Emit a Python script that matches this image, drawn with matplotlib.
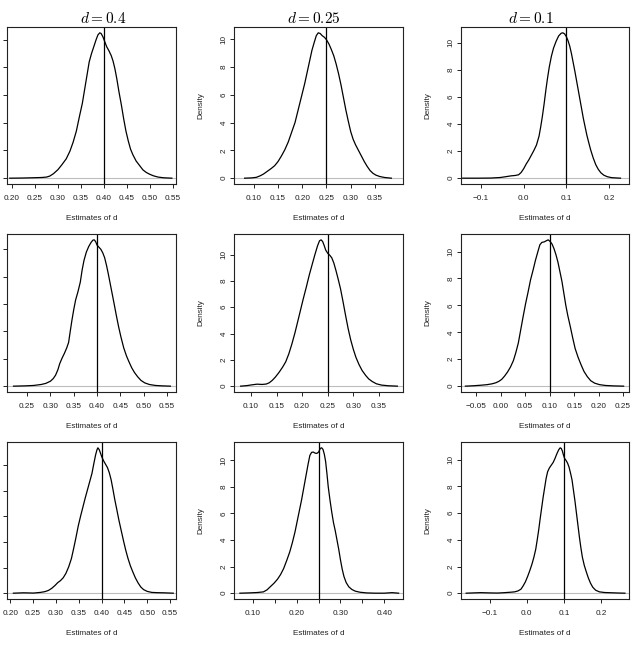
import matplotlib
matplotlib.use("Agg")
import matplotlib.pyplot as plt

plt.rcParams['mathtext.fontset'] = 'cm'
plt.rcParams['font.family'] = ['Liberation Sans', 'DejaVu Sans']

titles = [r'$d = 0.4$', r'$d = 0.25$', r'$d = 0.1$']
true_d = [0.4, 0.25, 0.1, 0.4, 0.25, 0.1, 0.4, 0.25, 0.1]

# ---- density curves (x = estimate of d, y = density) ----
p1_x = [0.195, 0.220, 0.245, 0.265, 0.275, 0.282, 0.290, 0.300, 0.308, 0.318, 0.326, 0.333, 0.340,
        0.347, 0.353, 0.358, 0.363, 0.368, 0.373, 0.378, 0.383, 0.387, 0.391, 0.394, 0.398, 0.402,
        0.406, 0.411, 0.416, 0.420, 0.424, 0.428, 0.433, 0.438, 0.443, 0.448, 0.453, 0.458, 0.463,
        0.470, 0.478, 0.485, 0.492, 0.500, 0.508, 0.518, 0.530, 0.548]
p1_y = [0.0, 0.01, 0.03, 0.05, 0.08, 0.15, 0.32, 0.62, 0.95, 1.4, 1.95, 2.6, 3.4,
        4.5, 5.4, 6.4, 7.4, 8.4, 9.0, 9.5, 10.0, 10.35, 10.5, 10.45, 10.2, 9.85,
        9.5, 9.2, 8.85, 8.45, 7.9, 7.2, 6.2, 5.3, 4.3, 3.4, 2.7, 2.1, 1.7,
        1.25, 0.9, 0.6, 0.42, 0.28, 0.17, 0.08, 0.03, 0.0]

p2_x = [0.081, 0.095, 0.105, 0.113, 0.120, 0.128, 0.136, 0.143, 0.150, 0.157, 0.164, 0.171, 0.178,
        0.185, 0.190, 0.195, 0.200, 0.205, 0.210, 0.215, 0.220, 0.225, 0.229, 0.233, 0.237, 0.241,
        0.246, 0.250, 0.255, 0.260, 0.265, 0.270, 0.275, 0.280, 0.285, 0.290, 0.295, 0.300, 0.305,
        0.310, 0.316, 0.322, 0.328, 0.334, 0.340, 0.346, 0.352, 0.360, 0.370, 0.384]
p2_y = [0.0, 0.02, 0.06, 0.17, 0.3, 0.5, 0.7, 0.9, 1.2, 1.6, 2.05, 2.6, 3.3,
        4.0, 4.7, 5.4, 6.1, 6.8, 7.6, 8.4, 9.2, 9.8, 10.25, 10.45, 10.4, 10.25,
        10.12, 9.95, 9.65, 9.25, 8.8, 8.2, 7.5, 6.7, 5.8, 4.9, 4.1, 3.35, 2.8,
        2.4, 2.0, 1.6, 1.2, 0.85, 0.55, 0.35, 0.22, 0.12, 0.05, 0.0]

p3_x = [-0.143, -0.110, -0.077, -0.055, -0.040, -0.030, -0.020, -0.012, -0.006, 0.000, 0.006, 0.012,
        0.018, 0.024, 0.030, 0.036, 0.040, 0.044, 0.048, 0.052, 0.056, 0.060, 0.065, 0.070, 0.076,
        0.082, 0.088, 0.092, 0.096, 0.100, 0.104, 0.108, 0.112, 0.116, 0.120, 0.124, 0.128, 0.132,
        0.136, 0.140, 0.144, 0.148, 0.152, 0.157, 0.163, 0.169, 0.175, 0.181, 0.188, 0.196, 0.206,
        0.227]
p3_y = [0.0, 0.0, 0.01, 0.05, 0.12, 0.17, 0.2, 0.25, 0.42, 0.7, 1.05, 1.35,
        1.7, 2.05, 2.45, 3.1, 3.8, 4.6, 5.5, 6.5, 7.4, 8.2, 9.0, 9.6, 10.1,
        10.5, 10.7, 10.73, 10.65, 10.45, 10.15, 9.75, 9.2, 8.55, 7.9, 7.2, 6.5, 5.8,
        5.1, 4.4, 3.8, 3.2, 2.7, 2.1, 1.5, 1.0, 0.65, 0.4, 0.22, 0.11, 0.04,
        0.0]

p4_x = [0.221, 0.245, 0.264, 0.280, 0.290, 0.300, 0.306, 0.311, 0.316, 0.320, 0.325, 0.330, 0.335,
        0.339, 0.342, 0.346, 0.350, 0.354, 0.359, 0.364, 0.368, 0.372, 0.377, 0.382, 0.387, 0.391,
        0.394, 0.397, 0.400, 0.404, 0.408, 0.412, 0.416, 0.420, 0.424, 0.428, 0.432, 0.436, 0.441,
        0.446, 0.451, 0.457, 0.463, 0.468, 0.474, 0.480, 0.487, 0.494, 0.502, 0.512, 0.525, 0.540,
        0.557]
p4_y = [0.0, 0.02, 0.05, 0.12, 0.2, 0.36, 0.55, 0.8, 1.2, 1.65, 2.05, 2.4, 2.8,
        3.2, 3.9, 4.8, 5.6, 6.3, 6.9, 7.6, 8.5, 9.2, 9.8, 10.2, 10.5, 10.67,
        10.69, 10.55, 10.3, 10.15, 10.0, 9.75, 9.4, 8.85, 8.2, 7.5, 6.8, 6.1, 5.2,
        4.35, 3.6, 2.8, 2.2, 1.8, 1.35, 1.0, 0.68, 0.42, 0.24, 0.12, 0.05, 0.02,
        0.0]

p5_x = [0.080, 0.092, 0.102, 0.112, 0.122, 0.130, 0.136, 0.142, 0.148, 0.155, 0.162, 0.168, 0.174,
        0.180, 0.186, 0.192, 0.197, 0.202, 0.208, 0.214, 0.220, 0.225, 0.230, 0.234, 0.237, 0.240,
        0.243, 0.246, 0.250, 0.254, 0.258, 0.262, 0.266, 0.270, 0.275, 0.280, 0.285, 0.290, 0.295,
        0.300, 0.305, 0.311, 0.317, 0.324, 0.330, 0.337, 0.345, 0.355, 0.368, 0.386]
p5_y = [0.0, 0.04, 0.1, 0.15, 0.13, 0.16, 0.26, 0.45, 0.7, 1.05, 1.45, 1.85, 2.45,
        3.2, 4.05, 5.0, 5.8, 6.6, 7.5, 8.45, 9.3, 10.0, 10.65, 11.05, 11.12, 11.0,
        10.7, 10.35, 10.1, 9.95, 9.75, 9.35, 8.8, 8.2, 7.4, 6.4, 5.35, 4.35, 3.5,
        2.8, 2.2, 1.65, 1.2, 0.82, 0.55, 0.35, 0.18, 0.08, 0.03, 0.0]

p6_x = [-0.072, -0.055, -0.040, -0.028, -0.018, -0.010, -0.004, 0.002, 0.008, 0.014, 0.020, 0.026,
        0.031, 0.036, 0.041, 0.046, 0.051, 0.056, 0.061, 0.066, 0.071, 0.076, 0.080, 0.084, 0.089,
        0.093, 0.097, 0.101, 0.105, 0.109, 0.113, 0.117, 0.121, 0.125, 0.129, 0.133, 0.137, 0.142,
        0.147, 0.152, 0.158, 0.164, 0.170, 0.177, 0.184, 0.192, 0.202, 0.214, 0.230, 0.251]
p6_y = [0.0, 0.03, 0.07, 0.11, 0.17, 0.25, 0.35, 0.5, 0.75, 1.05, 1.42, 1.9,
        2.5, 3.2, 4.2, 5.2, 6.15, 7.0, 7.9, 8.6, 9.35, 10.0, 10.5, 10.68, 10.72,
        10.8, 10.87, 10.75, 10.55, 10.2, 9.75, 9.2, 8.5, 7.8, 6.9, 6.0, 5.25, 4.45,
        3.6, 2.8, 2.15, 1.6, 1.1, 0.7, 0.4, 0.22, 0.11, 0.05, 0.02, 0.0]

p7_x = [0.207, 0.229, 0.251, 0.266, 0.276, 0.284, 0.291, 0.298, 0.304, 0.310, 0.316, 0.322, 0.328,
        0.334, 0.339, 0.344, 0.349, 0.354, 0.359, 0.364, 0.369, 0.374, 0.379, 0.383, 0.387, 0.390,
        0.392, 0.395, 0.398, 0.401, 0.405, 0.409, 0.413, 0.417, 0.421, 0.425, 0.429, 0.433, 0.438,
        0.443, 0.448, 0.453, 0.458, 0.463, 0.468, 0.474, 0.480, 0.486, 0.492, 0.500, 0.510, 0.522,
        0.536, 0.557]
p7_y = [0.0, 0.03, 0.01, 0.06, 0.12, 0.22, 0.38, 0.6, 0.82, 0.98, 1.2, 1.55, 2.05,
        2.7, 3.5, 4.35, 5.25, 6.0, 6.7, 7.4, 8.05, 8.7, 9.35, 10.1, 10.8, 11.2,
        11.35, 11.2, 10.9, 10.6, 10.3, 10.05, 9.8, 9.4, 8.85, 8.1, 7.3, 6.6, 5.7,
        4.9, 4.1, 3.35, 2.7, 2.15, 1.7, 1.2, 0.8, 0.48, 0.28, 0.14, 0.06, 0.04,
        0.03, 0.0]

p8_x = [0.070, 0.090, 0.110, 0.124, 0.132, 0.140, 0.148, 0.156, 0.163, 0.170, 0.177, 0.184, 0.190,
        0.196, 0.201, 0.206, 0.211, 0.216, 0.221, 0.226, 0.230, 0.234, 0.238, 0.242, 0.246, 0.250,
        0.254, 0.257, 0.260, 0.263, 0.266, 0.269, 0.272, 0.276, 0.280, 0.284, 0.288, 0.292, 0.296,
        0.300, 0.304, 0.308, 0.313, 0.319, 0.326, 0.334, 0.345, 0.360, 0.380, 0.400, 0.418, 0.433]
p8_y = [0.0, 0.02, 0.05, 0.1, 0.25, 0.5, 0.75, 1.05, 1.4, 1.85, 2.45, 3.1, 3.8,
        4.6, 5.4, 6.2, 7.0, 7.9, 8.8, 9.7, 10.35, 10.58, 10.6, 10.52, 10.5, 10.6,
        10.88, 10.92, 10.8, 10.45, 9.9, 9.0, 8.0, 7.0, 6.1, 5.3, 4.7, 4.0, 3.3,
        2.5, 1.8, 1.25, 0.8, 0.48, 0.28, 0.15, 0.07, 0.02, 0.0, 0.0, 0.04, 0.0]

p9_x = [-0.164, -0.145, -0.125, -0.100, -0.079, -0.060, -0.045, -0.033, -0.024, -0.016, -0.010, -0.004,
        0.002, 0.008, 0.014, 0.019, 0.024, 0.028, 0.032, 0.036, 0.040, 0.044, 0.048, 0.052, 0.056,
        0.061, 0.066, 0.071, 0.076, 0.081, 0.086, 0.090, 0.093, 0.096, 0.099, 0.102, 0.106, 0.110,
        0.114, 0.118, 0.122, 0.126, 0.130, 0.134, 0.138, 0.142, 0.146, 0.150, 0.155, 0.160, 0.166,
        0.172, 0.178, 0.186, 0.196, 0.210, 0.230, 0.250, 0.265]
p9_y = [0.0, 0.02, 0.04, 0.02, 0.01, 0.04, 0.07, 0.1, 0.17, 0.3, 0.55, 0.85,
        1.25, 1.7, 2.2, 2.7, 3.3, 4.0, 4.75, 5.6, 6.4, 7.2, 7.9, 8.6, 9.1,
        9.4, 9.6, 9.8, 10.1, 10.45, 10.75, 10.9, 10.85, 10.65, 10.35, 10.1, 9.95, 9.75,
        9.45, 9.0, 8.5, 7.7, 6.9, 6.0, 5.1, 4.2, 3.4, 2.7, 2.1, 1.65, 1.15,
        0.75, 0.45, 0.22, 0.1, 0.05, 0.03, 0.01, 0.0]

curves_x = [p1_x, p2_x, p3_x, p4_x, p5_x, p6_x, p7_x, p8_x, p9_x]
curves_y = [p1_y, p2_y, p3_y, p4_y, p5_y, p6_y, p7_y, p8_y, p9_y]

# x-axis limits and ticks
xlims = [(0.189, 0.557), (0.059, 0.408), (-0.147, 0.247),
         (0.207, 0.569), (0.067, 0.397), (-0.081, 0.262),
         (0.193, 0.563), (0.0565, 0.443), (-0.178, 0.276)]
xticks = [[0.20, 0.25, 0.30, 0.35, 0.40, 0.45, 0.50, 0.55],
          [0.10, 0.15, 0.20, 0.25, 0.30, 0.35],
          [-0.1, 0.0, 0.1, 0.2],
          [0.25, 0.30, 0.35, 0.40, 0.45, 0.50, 0.55],
          [0.10, 0.15, 0.20, 0.25, 0.30, 0.35],
          [-0.05, 0.00, 0.05, 0.10, 0.15, 0.20, 0.25],
          [0.20, 0.25, 0.30, 0.35, 0.40, 0.45, 0.50, 0.55],
          [0.10, 0.15, 0.20, 0.25, 0.30, 0.35, 0.40],
          [-0.1, 0.0, 0.1, 0.2]]
xticklabels = [["0.20", "0.25", "0.30", "0.35", "0.40", "0.45", "0.50", "0.55"],
               ["0.10", "0.15", "0.20", "0.25", "0.30", "0.35"],
               ["\u22120.1", "0.0", "0.1", "0.2"],
               ["0.25", "0.30", "0.35", "0.40", "0.45", "0.50", "0.55"],
               ["0.10", "0.15", "0.20", "0.25", "0.30", "0.35"],
               ["\u22120.05", "0.00", "0.05", "0.10", "0.15", "0.20", "0.25"],
               ["0.20", "0.25", "0.30", "0.35", "0.40", "0.45", "0.50", "0.55"],
               ["0.10", "", "0.20", "", "0.30", "", "0.40"],
               ["\u22120.1", "0.0", "0.1", "0.2"]]
yticks = [0, 2, 4, 6, 8, 10]
yticklabels = ["0", "2", "4", "6", "8", "10"]

W, H = 635, 645
fig = plt.figure(figsize=(W / 100, H / 100), dpi=100)

col_lr = [(7, 176), (234, 403), (461, 629)]
row_tb = [(27, 184), (234, 392), (442, 599)]
title_x = [103, 313.5, 530.5]
FS = 5.9
TXT = '#222222'

for i in range(9):
    r, c = divmod(i, 3)
    l, rr = col_lr[c]
    t, b = row_tb[r]
    ax = fig.add_axes([l / W, 1 - b / H, (rr - l) / W, (b - t) / H])
    ax.axhline(0, color='#bdbdbd', lw=0.8, zorder=1)
    ax.plot(curves_x[i], curves_y[i], color='black', lw=0.9, zorder=3,
            solid_joinstyle='round')
    ax.axvline(true_d[i], color='black', lw=0.9, zorder=2)
    m = max(curves_y[i])
    ax.set_ylim(-0.04 * m, 1.04 * m)
    ax.set_xlim(*xlims[i])
    ax.set_xticks(xticks[i])
    ax.set_xticklabels(xticklabels[i])
    ax.set_yticks(yticks)
    ax.tick_params(axis='both', direction='out', length=3.1, width=0.7, labelsize=FS,
                   colors=TXT)
    ax.tick_params(axis='x', pad=4.8)
    ax.tick_params(axis='y', pad=1.5)
    for s in ax.spines.values():
        s.set_linewidth(0.8)
        s.set_color(TXT)
    ax.set_xlabel('Estimates of d', fontsize=FS, color=TXT, va='center')
    ax.xaxis.set_label_coords(0.5, -34.5 / (b - t))
    if c == 0:
        # the left column's y tick labels and y label fall outside the picture
        ax.set_yticklabels([""] * len(yticks))
    else:
        ax.set_yticklabels(yticklabels, rotation=90, va='center')
        ax.set_ylabel('Density', fontsize=FS, color=TXT, va='center')
        ax.yaxis.set_label_coords(-33 / (rr - l), 0.5)

for j in range(3):
    fig.text(title_x[j] / W, 1 - 23.3 / H, titles[j], ha='center', va='baseline', fontsize=11)

fig.savefig('out.png', dpi=100)
